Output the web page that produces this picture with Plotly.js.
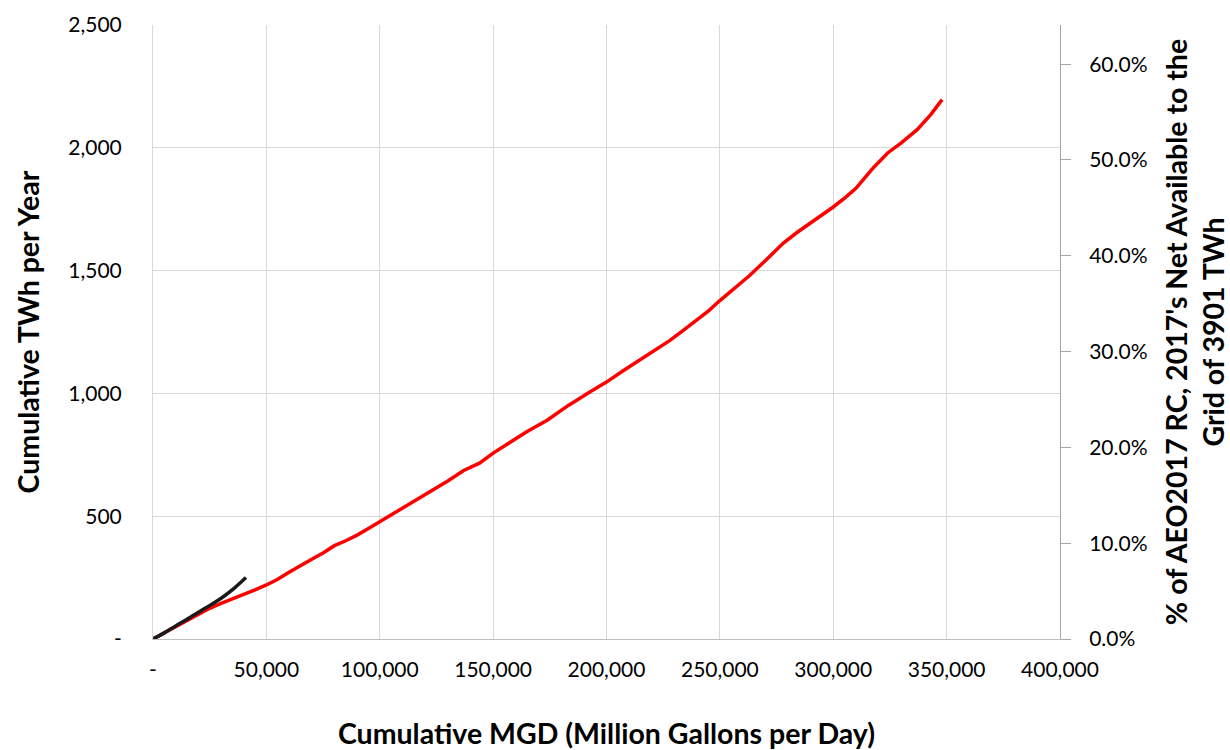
<!DOCTYPE html>
<html>
<head>
<meta charset="utf-8">
<script src="https://cdn.plot.ly/plotly-3.0.1.min.js"></script>
<style>html,body{margin:0;padding:0;background:#fff;}#chart{width:1230px;height:750px;}</style>
</head>
<body>
<div id="chart"></div>
<script>
// Red series: cumulative MGD vs cumulative TWh per year
const redMGD = [0,5000,10000,15000,20000,25000,30000,35000,40000,45000,50000,55000,60000,65000,70000,75000,80000,85000,90000,95000,100000,105000,110000,116000,124000,130000,137000,144000,150000,157000,165000,174000,183000,193000,200000,207000,215000,222000,228000,234000,240000,245000,250000,257000,263000,270000,278000,284000,290000,295000,300000,305000,310000,315000,318000,324000,330000,337000,343000,348000];
const redTWh = [0,25,52,78,104,125,145,163,180,200,220,243,272,300,325,350,380,400,423,450,478,505,530,566,610,643,686,716,757,800,845,892,950,1008,1046,1090,1137,1178,1216,1258,1300,1336,1378,1430,1479,1540,1612,1655,1694,1725,1759,1795,1835,1890,1922,1979,2020,2074,2135,2196];
// Black series
const blackMGD = [0,5000,10000,15000,21000,26000,31000,36000,41000];
const blackTWh = [0,25,53,80,114,142,172,208,250];
// Axis ticks
const xTickVals = [0,50000,100000,150000,200000,250000,300000,350000,400000];
const xTickText = ['-','50,000','100,000','150,000','200,000','250,000','300,000','350,000','400,000'];
const yTickVals = [0,500,1000,1500,2000,2500];
const yTickText = ['-','500','1,000','1,500','2,000','2,500'];
const gridTotalTWh = 3901;

const font = 'Lato, "Open Sans", sans-serif';
const traces = [
  {x: redMGD, y: redTWh, mode: 'lines', line: {color: '#ff0000', width: 3.5}, showlegend: false, hoverinfo: 'skip'},
  {x: blackMGD, y: blackTWh, mode: 'lines', line: {color: '#1a1a1a', width: 3.5, shape: 'spline'}, showlegend: false, hoverinfo: 'skip'},
  {x: [], y: [], yaxis: 'y2', mode: 'lines', showlegend: false, hoverinfo: 'skip'}
];
const layout = {
  width: 1230, height: 750,
  margin: {l: 153, r: 170, t: 25, b: 111},
  paper_bgcolor: '#fff', plot_bgcolor: '#fff',
  font: {family: font, size: 21, color: '#000'},
  showlegend: false,
  xaxis: {
    range: [0, 400000], tickvals: xTickVals, ticktext: xTickText,
    showgrid: true, gridcolor: '#d9d9d9', gridwidth: 1,
    showline: true, linecolor: '#bfbfbf', linewidth: 1,
    zeroline: false, ticks: '', ticklabelstandoff: 12,
    tickfont: {family: font, size: 21},
    title: {text: 'Cumulative MGD (Million Gallons per Day)', font: {family: font, size: 28.5, weight: 'bold'}, standoff: 48}
  },
  yaxis: {
    range: [0, 2500], tickvals: yTickVals, ticktext: yTickText,
    showgrid: true, gridcolor: '#d9d9d9', gridwidth: 1,
    showline: true, linecolor: '#d9d9d9', linewidth: 1,
    zeroline: false, ticks: '', ticklabelstandoff: 26,
    tickfont: {family: font, size: 21},
    title: {text: 'Cumulative TWh per Year', font: {family: font, size: 28.5, weight: 'bold'}, standoff: 20}
  },
  yaxis2: {
    overlaying: 'y', side: 'right',
    range: [0, 2500 / gridTotalTWh], tickformat: '.1%', dtick: 0.1, tick0: 0,
    showgrid: false, zeroline: false,
    showline: true, linecolor: '#a6a6a6', linewidth: 1,
    ticks: 'outside', ticklen: 10, tickcolor: '#a6a6a6', ticklabelstandoff: 14,
    tickfont: {family: font, size: 21},
    title: {text: "% of AEO2017 RC, 2017's Net Available to the<br>Grid of 3901 TWh", font: {family: font, size: 28.5, weight: 'bold'}, standoff: 24}
  }
};
Plotly.newPlot('chart', traces, layout, {staticPlot: true, displayModeBar: false});
</script>
</body>
</html>
